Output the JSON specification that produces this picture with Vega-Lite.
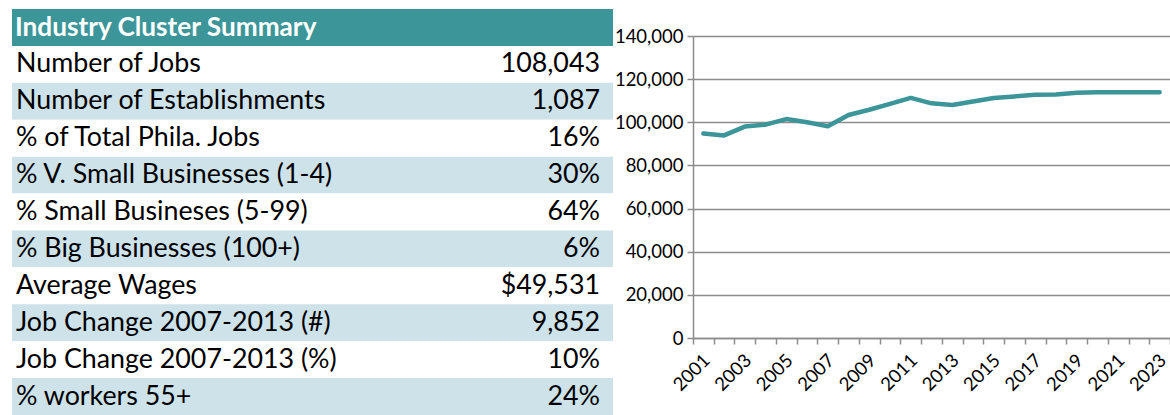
{
  "$schema": "https://vega.github.io/schema/vega-lite/v6.json",
  "padding": {"left": 12, "top": 9, "right": 0, "bottom": 0},
  "background": "white",
  "spacing": 80,
  "bounds": "flush",
  "config": {"view": {"stroke": null}, "font": "Lato"},
  "hconcat": [
    {
      "width": 601,
      "height": 406,
      "data": {"values": [
        {"row": 0, "label": "Industry Cluster Summary", "value": "", "kind": "header"},
        {"row": 1, "label": "Number of Jobs", "value": "108,043", "kind": "plain"},
        {"row": 2, "label": "Number of Establishments", "value": "1,087", "kind": "shaded"},
        {"row": 3, "label": "% of Total Phila. Jobs", "value": "16%", "kind": "plain"},
        {"row": 4, "label": "% V. Small Businesses (1-4)", "value": "30%", "kind": "shaded"},
        {"row": 5, "label": "% Small Busineses (5-99)", "value": "64%", "kind": "plain"},
        {"row": 6, "label": "% Big Businesses (100+)", "value": "6%", "kind": "shaded"},
        {"row": 7, "label": "Average Wages", "value": "$49,531", "kind": "plain"},
        {"row": 8, "label": "Job Change 2007-2013 (#)", "value": "9,852", "kind": "shaded"},
        {"row": 9, "label": "Job Change 2007-2013 (%)", "value": "10%", "kind": "plain"},
        {"row": 10, "label": "% workers 55+", "value": "24%", "kind": "shaded"}
      ]},
      "encoding": {
        "y": {"field": "row", "type": "ordinal", "scale": {"type": "band", "paddingInner": 0, "paddingOuter": 0}, "axis": null}
      },
      "layer": [
        {
          "mark": {"type": "rect"},
          "encoding": {
            "color": {"field": "kind", "type": "nominal", "scale": {"domain": ["header", "plain", "shaded"], "range": ["#3B9599", "#FFFFFF", "#CEE2EA"]}, "legend": null}
          }
        },
        {
          "transform": [{"filter": "datum.kind === 'header'"}],
          "mark": {"type": "text", "align": "left", "baseline": "middle", "dx": 3, "dy": 1, "fontSize": 26.2, "fontWeight": "bold", "color": "#FFFFFF"},
          "encoding": {
            "x": {"datum": 0, "type": "quantitative", "scale": {"domain": [0, 100]}, "axis": null},
            "text": {"field": "label"}
          }
        },
        {
          "transform": [{"filter": "datum.kind !== 'header'"}],
          "mark": {"type": "text", "align": "left", "baseline": "middle", "dx": 4, "fontSize": 26.8, "color": "#000000"},
          "encoding": {
            "x": {"datum": 0, "type": "quantitative", "scale": {"domain": [0, 100]}, "axis": null},
            "text": {"field": "label"}
          }
        },
        {
          "transform": [{"filter": "datum.kind !== 'header'"}],
          "mark": {"type": "text", "align": "right", "baseline": "middle", "dx": -13, "fontSize": 26.8, "color": "#000000"},
          "encoding": {
            "x": {"datum": 100, "type": "quantitative", "scale": {"domain": [0, 100]}, "axis": null},
            "text": {"field": "value"}
          }
        }
      ]
    },
    {
      "width": 477,
      "height": 329,
      "data": {"values": [
        {"year": "2001", "jobs": 94800},
        {"year": "2002", "jobs": 93900},
        {"year": "2003", "jobs": 98000},
        {"year": "2004", "jobs": 98900},
        {"year": "2005", "jobs": 101500},
        {"year": "2006", "jobs": 100000},
        {"year": "2007", "jobs": 98200},
        {"year": "2008", "jobs": 103400},
        {"year": "2009", "jobs": 105800},
        {"year": "2010", "jobs": 108500},
        {"year": "2011", "jobs": 111300},
        {"year": "2012", "jobs": 108800},
        {"year": "2013", "jobs": 108000},
        {"year": "2014", "jobs": 109600},
        {"year": "2015", "jobs": 111300},
        {"year": "2016", "jobs": 112000},
        {"year": "2017", "jobs": 112800},
        {"year": "2018", "jobs": 112900},
        {"year": "2019", "jobs": 113700},
        {"year": "2020", "jobs": 113900},
        {"year": "2021", "jobs": 113900},
        {"year": "2022", "jobs": 113900},
        {"year": "2023", "jobs": 113900}
      ]},
      "mark": {"type": "line", "color": "#3B9599", "strokeWidth": 4.5, "strokeCap": "round", "strokeJoin": "round"},
      "encoding": {
        "x": {
          "field": "year", "type": "ordinal", "bandPosition": 0.5,
          "scale": {"type": "band", "paddingInner": 0, "paddingOuter": 0},
          "axis": {
            "title": null, "labelAngle": -45, "labelAlign": "right", "labelBaseline": "middle",
            "tickBand": "extent", "labelOverlap": false, "labelBound": false,
            "labelExpr": "parseInt(datum.value) % 2 === 1 ? datum.label : ''",
            "labelFontSize": 18.5, "labelColor": "#000000", "labelPadding": 13, "labelOffset": 3,
            "domainColor": "#8C8C8C", "domainWidth": 1.5, "tickColor": "#8C8C8C", "tickWidth": 1.5, "tickSize": 6
          }
        },
        "y": {
          "field": "jobs", "type": "quantitative",
          "scale": {"domain": [0, 140000], "range": [329, 27], "nice": false},
          "axis": {
            "title": null, "values": [0, 20000, 40000, 60000, 80000, 100000, 120000, 140000], "format": ",d",
            "labelFontSize": 18.5, "labelColor": "#000000", "labelPadding": 4,
            "gridColor": "#8C8C8C", "gridWidth": 1.5, "domainColor": "#8C8C8C", "domainWidth": 1.5,
            "tickColor": "#8C8C8C", "tickWidth": 1.5, "tickSize": 6
          }
        }
      }
    }
  ]
}
